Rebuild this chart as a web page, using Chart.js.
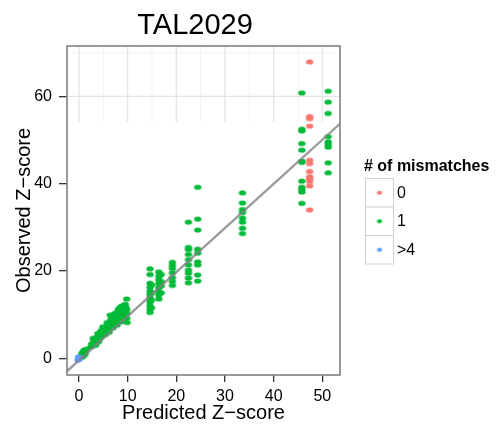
<!DOCTYPE html>
<html>
<head>
<meta charset="utf-8">
<script src="https://cdn.jsdelivr.net/npm/chart.js@4/dist/chart.umd.min.js"></script>
<style>
  html, body { margin: 0; padding: 0; background: #fff; }
  #wrap { width: 503px; height: 428px; }
</style>
</head>
<body>
<div id="wrap"><canvas id="zChart" width="503" height="428"></canvas></div>
<script>
const FONT = '"Liberation Sans", Arial, Helvetica, sans-serif';

// axis ticks and grid breaks
const xTicks = [0, 10, 20, 30, 40, 50];
const yTicks = [0, 20, 40, 60];
const xMinor = [5, 15, 25, 35, 45];
const yMinor = [10, 30, 50, 70];

// legend groups
const mismatchLabels = ['0', '1', '>4'];
const mismatchColors = ['#F8766D', '#00BA38', '#619CFF'];

// 0 mismatches: one column of guides
const stackPred0 = [47.4];
const stackObs0 = [[67.9, 55.4, 54.9, 53.2, 45.4, 44.6, 42.8, 41.6, 41.1, 40.5, 39.5, 34.0]];

// 1 mismatch: low-score cloud
const clusterPred1 = [0.4, 0.6, 0.8, 1.0, 1.1, 1.3, 1.5, 0.7, 1.2, 2.4, 2.6, 2.8, 3.0, 3.1, 3.3, 3.5,
  3.6, 3.8, 4.0, 4.1, 4.3, 4.5, 4.6, 4.8, 5.0, 5.1, 5.3, 5.5, 5.6, 5.8, 6.0, 6.1, 6.3, 6.4,
  6.5, 6.7, 6.8, 7.0, 7.1, 7.3, 7.5, 7.6, 7.8, 8.0, 8.1, 8.3, 8.5, 8.6, 8.7, 8.9, 9.1, 9.3,
  9.5, 9.8, 9.8, 9.8, 9.8, 9.9,
  3.4, 4.0, 4.5, 5.5, 5.8, 6.2, 7.0, 7.2, 7.8, 8.0, 8.5, 9.0, 9.2, 9.5, 2.9, 3.9, 4.9, 6.6,
  7.4, 8.2, 8.8, 9.6];
const clusterObs1 = [0.6, 1.1, 1.5, 0.8, 1.9, 1.4, 2.1, 0.3, 0.9, 2.6, 3.3, 2.9, 3.8, 3.2, 4.3, 3.6,
  4.8, 4.1, 5.1, 4.5, 5.5, 4.8, 6.0, 5.3, 6.6, 5.7, 6.2, 7.0, 6.4, 7.4, 6.6, 7.9, 7.1, 9.9,
  8.3, 7.4, 8.7, 7.8, 9.1, 8.2, 9.5, 8.5, 10.0, 8.9, 10.4, 9.3, 10.8, 11.8, 9.6, 10.2, 11.0, 9.8,
  10.6, 13.6, 11.2, 10.3, 9.2, 8.2,
  3.0, 3.8, 6.3, 5.5, 8.2, 6.0, 7.0, 10.0, 7.6, 11.0, 8.3, 12.0, 8.8, 12.4, 4.6, 5.7, 7.2, 9.0,
  10.3, 11.4, 11.9, 11.8];

// 1 mismatch: columns at higher predicted scores
const stackPred1 = [14.6, 14.9, 16.4, 16.9, 19.2, 22.5, 24.4, 33.6, 45.8, 51.2];
const stackObs1 = [
  [20.5, 19.2, 17.2, 16.3, 15.4, 14.6, 13.8, 12.9, 12.0, 11.2, 10.5],
  [16.8, 15.0, 13.3, 11.6],
  [19.8, 18.8, 18.0, 17.1, 16.2, 15.3, 14.5, 13.6],
  [19.2, 17.6, 16.6, 15.0],
  [22.0, 21.3, 20.6, 19.6, 18.5, 17.6, 16.7],
  [31.2, 25.4, 24.9, 23.8, 22.6, 21.4, 20.2, 19.5, 18.4, 17.3],
  [39.2, 31.9, 29.4, 25.0, 24.1, 22.1, 21.4, 19.1, 17.7],
  [37.9, 35.6, 34.1, 33.4, 32.1, 31.2, 29.8, 28.6],
  [60.8, 52.5, 52.1, 49.2, 47.7, 45.2, 44.9, 40.6, 39.2, 38.7, 38.1, 35.5],
  [61.2, 58.7, 56.1, 50.8, 49.6, 49.0, 48.4, 44.8, 42.5]
];

// >4 mismatches
const pred4 = [-0.2, 0.1, -0.1, 0.0];
const obs4 = [-0.4, -0.1, 0.3, 0.0];

// linear fit, end points
const fitPred = [-2.6, 53.8];
const fitObs = [-3.1, 53.9];

const gridCut = 54.2;

function pairs(xs, ys) {
  return xs.map((x, i) => ({ x: x, y: ys[i] }));
}
function stackPairs(xs, cols) {
  const out = [];
  xs.forEach((x, i) => cols[i].forEach(y => out.push({ x: x, y: y })));
  return out;
}
function makeDot(color, w, h) {
  const c = document.createElement('canvas');
  c.width = Math.ceil(w) + 2;
  c.height = Math.ceil(h) + 2;
  const g = c.getContext('2d');
  g.fillStyle = color;
  g.beginPath();
  g.ellipse(c.width / 2, c.height / 2, w / 2, h / 2, 0, 0, Math.PI * 2);
  g.fill();
  return c;
}

const dots = mismatchColors.map(c => makeDot(c, 7.4, 5.2));
const keyDots = mismatchColors.map(c => makeDot(c, 5.4, 3.8));

// light grid only across the upper strip of the panel
const topGrid = {
  id: 'topGrid',
  beforeDatasetsDraw(chart) {
    const { ctx, chartArea: a, scales: { x, y } } = chart;
    const cut = y.getPixelForValue(gridCut);
    ctx.save();
    ctx.beginPath();
    ctx.rect(a.left, a.top, a.right - a.left, cut - a.top);
    ctx.clip();
    const line = (x1, y1, x2, y2, col, w) => {
      ctx.strokeStyle = col; ctx.lineWidth = w;
      ctx.beginPath(); ctx.moveTo(x1, y1); ctx.lineTo(x2, y2); ctx.stroke();
    };
    yMinor.forEach(v => { const p = y.getPixelForValue(v); line(a.left, p, a.right, p, '#f2f2f2', 1); });
    xMinor.forEach(v => { const p = x.getPixelForValue(v); line(p, a.top, p, a.bottom, '#f2f2f2', 1); });
    yTicks.forEach(v => { const p = y.getPixelForValue(v); line(a.left, p, a.right, p, '#e3e3e3', 1.2); });
    xTicks.forEach(v => { const p = x.getPixelForValue(v); line(p, a.top, p, a.bottom, '#e3e3e3', 1.2); });
    ctx.restore();
  }
};

// panel border, title and legend
const frame = {
  id: 'frame',
  afterDraw(chart) {
    const { ctx, chartArea: a } = chart;
    ctx.save();
    ctx.strokeStyle = '#808080';
    ctx.lineWidth = 1.6;
    ctx.strokeRect(a.left, a.top, a.right - a.left, a.bottom - a.top);

    ctx.fillStyle = '#000';
    ctx.textAlign = 'center';
    ctx.textBaseline = 'alphabetic';
    ctx.font = '29px ' + FONT;
    ctx.fillText('TAL2029', 195, 34);

    ctx.textAlign = 'left';
    ctx.font = 'bold 16px ' + FONT;
    ctx.fillText('# of mismatches', 364, 171);

    const kx = 365, ky = 178, ks = 28.5;
    ctx.font = '16px ' + FONT;
    ctx.textBaseline = 'middle';
    mismatchLabels.forEach((lab, i) => {
      const top = ky + i * ks;
      ctx.fillStyle = '#fff';
      ctx.fillRect(kx, top, 28, ks);
      ctx.strokeStyle = '#d0d0d0';
      ctx.lineWidth = 1;
      ctx.strokeRect(kx + 0.5, top + 0.5, 28, ks);
      const d = keyDots[i];
      ctx.drawImage(d, kx + 14.5 - d.width / 2, top + ks / 2 - d.height / 2 + 0.5);
      ctx.fillStyle = '#000';
      ctx.fillText(lab, kx + 32, top + ks / 2 + 1);
    });
    ctx.restore();
  }
};

const pointSet = (label, data, i) => ({
  label: label,
  data: data,
  pointStyle: dots[i],
  pointRadius: 3,
  backgroundColor: mismatchColors[i],
  borderColor: mismatchColors[i]
});

new Chart(document.getElementById('zChart'), {
  type: 'scatter',
  data: {
    datasets: [
      {
        type: 'line',
        label: 'fit',
        data: pairs(fitPred, fitObs),
        borderColor: 'rgba(130,130,130,0.8)',
        borderWidth: 2.4,
        pointRadius: 0,
        fill: false
      },
      pointSet(mismatchLabels[2], pairs(pred4, obs4), 2),
      pointSet(mismatchLabels[1], pairs(clusterPred1, clusterObs1).concat(stackPairs(stackPred1, stackObs1)), 1),
      pointSet(mismatchLabels[0], stackPairs(stackPred0, stackObs0), 0)
    ]
  },
  options: {
    responsive: false,
    animation: false,
    layout: { padding: { left: 0, top: 46, right: 163, bottom: 0 } },
    plugins: { legend: { display: false }, tooltip: { enabled: false }, title: { display: false } },
    scales: {
      x: {
        type: 'linear',
        min: -2.47,
        max: 53.64,
        afterBuildTicks: s => { s.ticks = xTicks.map(v => ({ value: v })); },
        afterFit: s => { s.height = 53; },
        border: { display: false },
        grid: { drawOnChartArea: false, drawTicks: true, tickLength: 7, tickColor: '#333', lineWidth: 1.3 },
        ticks: { color: '#000', font: { family: FONT, size: 16 }, padding: 5, maxRotation: 0 },
        title: {
          display: true,
          text: 'Predicted Z\u2212score',
          color: '#000',
          font: { family: FONT, size: 20 },
          padding: { top: 0, bottom: 3 }
        }
      },
      y: {
        type: 'linear',
        min: -3.83,
        max: 71.55,
        afterBuildTicks: s => { s.ticks = yTicks.map(v => ({ value: v })); },
        afterFit: s => { s.width = 67; },
        border: { display: false },
        grid: { drawOnChartArea: false, drawTicks: true, tickLength: 8, tickColor: '#333', lineWidth: 1.3 },
        ticks: { color: '#000', font: { family: FONT, size: 16 }, padding: 7 },
        title: {
          display: true,
          text: 'Observed Z\u2212score',
          color: '#000',
          font: { family: FONT, size: 20 },
          padding: { top: 12, bottom: 0 }
        }
      }
    }
  },
  plugins: [topGrid, frame]
});
</script>
</body>
</html>
